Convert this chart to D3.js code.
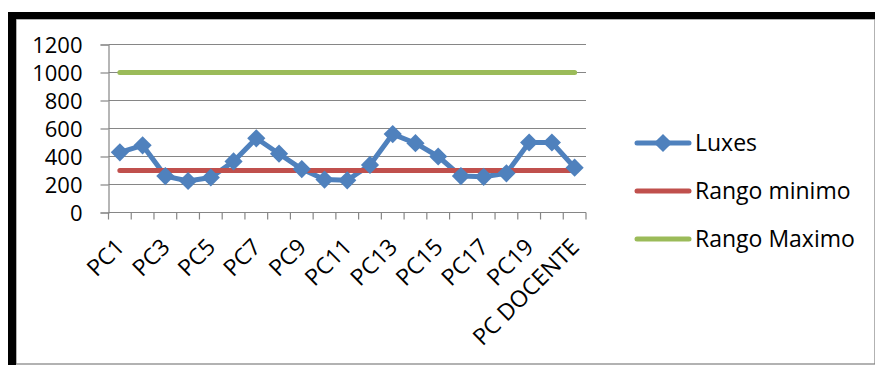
<!DOCTYPE html>
<html>
<head>
<meta charset="utf-8">
<script src="https://cdn.jsdelivr.net/npm/d3@7/dist/d3.min.js"></script>
<style>
  html, body { margin: 0; padding: 0; background: #fff; }
  svg { display: block; }
  text { font-family: "Open Sans", "Noto Sans", sans-serif; fill: #000; }
</style>
</head>
<body>
<svg id="chart" width="875" height="365"></svg>
<script>
// Puestos medidos
const categories = ["PC1","PC2","PC3","PC4","PC5","PC6","PC7","PC8","PC9","PC10",
  "PC11","PC12","PC13","PC14","PC15","PC16","PC17","PC18","PC19","PC20","PC DOCENTE"];
// Iluminancia medida en cada puesto (lux)
const luxes = [430, 480, 260, 225, 250, 365, 530, 420, 310, 235,
  230, 340, 560, 495, 400, 260, 255, 280, 500, 500, 320];
const rangoMinimo = 300;
const rangoMaximo = 1000;
const yTicks = [0, 200, 400, 600, 800, 1000, 1200];

const seriesNames = ["Luxes", "Rango minimo", "Rango Maximo"];
const seriesColors = ["#4F81BD", "#C0504D", "#9BBB59"];

const svg = d3.select("#chart");
const W = 875, H = 365;

// Marco del gráfico
svg.append("rect").attr("x", 16).attr("y", 19).attr("width", W - 16).attr("height", 345)
  .attr("fill", "#fff").attr("stroke", "#7f7f7f").attr("stroke-width", 1.2);
svg.append("rect").attr("x", 8).attr("y", 12).attr("width", W - 8).attr("height", 7).attr("fill", "#000");
svg.append("rect").attr("x", 8).attr("y", 12).attr("width", 8).attr("height", H - 12).attr("fill", "#000");

const plot = { left: 108.5, right: 586, top: 44.5, bottom: 212.5 };

const x = d3.scaleBand().domain(categories).range([plot.left, plot.right]).paddingInner(0).paddingOuter(0);
const y = d3.scaleLinear().domain([0, 1200]).range([plot.bottom, plot.top]);
const cx = d => x(d) + x.bandwidth() / 2;

const axisColor = "#868686";

// Líneas de división horizontales
svg.append("g").selectAll("line").data(yTicks.filter(t => t > 0)).join("line")
  .attr("x1", plot.left).attr("x2", plot.right)
  .attr("y1", d => y(d)).attr("y2", d => y(d))
  .attr("stroke", axisColor).attr("stroke-width", 1.2);

// Eje Y
const yAxis = d3.axisLeft(y).tickValues(yTicks).tickSize(8).tickPadding(18).tickFormat(d3.format("d"));
const gy = svg.append("g").attr("transform", `translate(${plot.left},0)`).call(yAxis);
gy.select(".domain").attr("stroke", axisColor).attr("stroke-width", 1.2);
gy.selectAll(".tick line").attr("stroke", axisColor).attr("stroke-width", 1.2);
gy.selectAll(".tick text").attr("font-size", 22).attr("dy", "0.36em");

// Eje X: marcas en los límites de cada categoría
svg.append("line").attr("x1", plot.left).attr("x2", plot.right)
  .attr("y1", plot.bottom).attr("y2", plot.bottom)
  .attr("stroke", axisColor).attr("stroke-width", 1.2);
const bounds = categories.map(c => x(c)).concat([plot.right]);
svg.append("g").selectAll("line").data(bounds).join("line")
  .attr("x1", d => d).attr("x2", d => d)
  .attr("y1", plot.bottom).attr("y2", plot.bottom + 7)
  .attr("stroke", axisColor).attr("stroke-width", 1.2);

// Etiquetas de categoría (una de cada dos)
svg.append("g").selectAll("text").data(categories.filter((c, i) => i % 2 === 0)).join("text")
  .attr("transform", d => `translate(${cx(d) + 6},${plot.bottom + 36}) rotate(-45)`)
  .attr("text-anchor", "end")
  .attr("font-size", 23)
  .text(d => d);

// Series
const line = d3.line().x(d => cx(d.c)).y(d => y(d.v));
const first = categories[0], last = categories[categories.length - 1];

svg.append("path")
  .datum([{ c: first, v: rangoMaximo }, { c: last, v: rangoMaximo }])
  .attr("d", line).attr("fill", "none").attr("stroke", seriesColors[2])
  .attr("stroke-width", 5).attr("stroke-linecap", "round");

const luxData = categories.map((c, i) => ({ c, v: luxes[i] }));
svg.append("path").datum(luxData).attr("d", line)
  .attr("fill", "none").attr("stroke", seriesColors[0]).attr("stroke-width", 5)
  .attr("stroke-linejoin", "round");

svg.append("path")
  .datum([{ c: first, v: rangoMinimo }, { c: last, v: rangoMinimo }])
  .attr("d", line).attr("fill", "none").attr("stroke", seriesColors[1])
  .attr("stroke-width", 5).attr("stroke-linecap", "round");

const marker = d3.symbol().type(d3.symbolSquare).size(165);
svg.append("g").selectAll("path").data(luxData).join("path")
  .attr("transform", d => `translate(${cx(d.c)},${y(d.v)}) rotate(45)`)
  .attr("d", marker)
  .attr("fill", seriesColors[0]);

// Leyenda
const legend = svg.append("g");
const rows = [143, 191, 239];
seriesNames.forEach((name, i) => {
  const g = legend.append("g").attr("transform", `translate(0,${rows[i]})`);
  g.append("line").attr("x1", 637).attr("x2", 689).attr("y1", 0).attr("y2", 0)
    .attr("stroke", seriesColors[i]).attr("stroke-width", 5).attr("stroke-linecap", "round");
  if (i === 0) {
    g.append("path").attr("transform", "translate(663,0) rotate(45)")
      .attr("d", marker).attr("fill", seriesColors[0]);
  }
  g.append("text").attr("x", 695).attr("y", 0).attr("dy", "0.36em")
    .attr("font-size", 23).text(name);
});
</script>
</body>
</html>
